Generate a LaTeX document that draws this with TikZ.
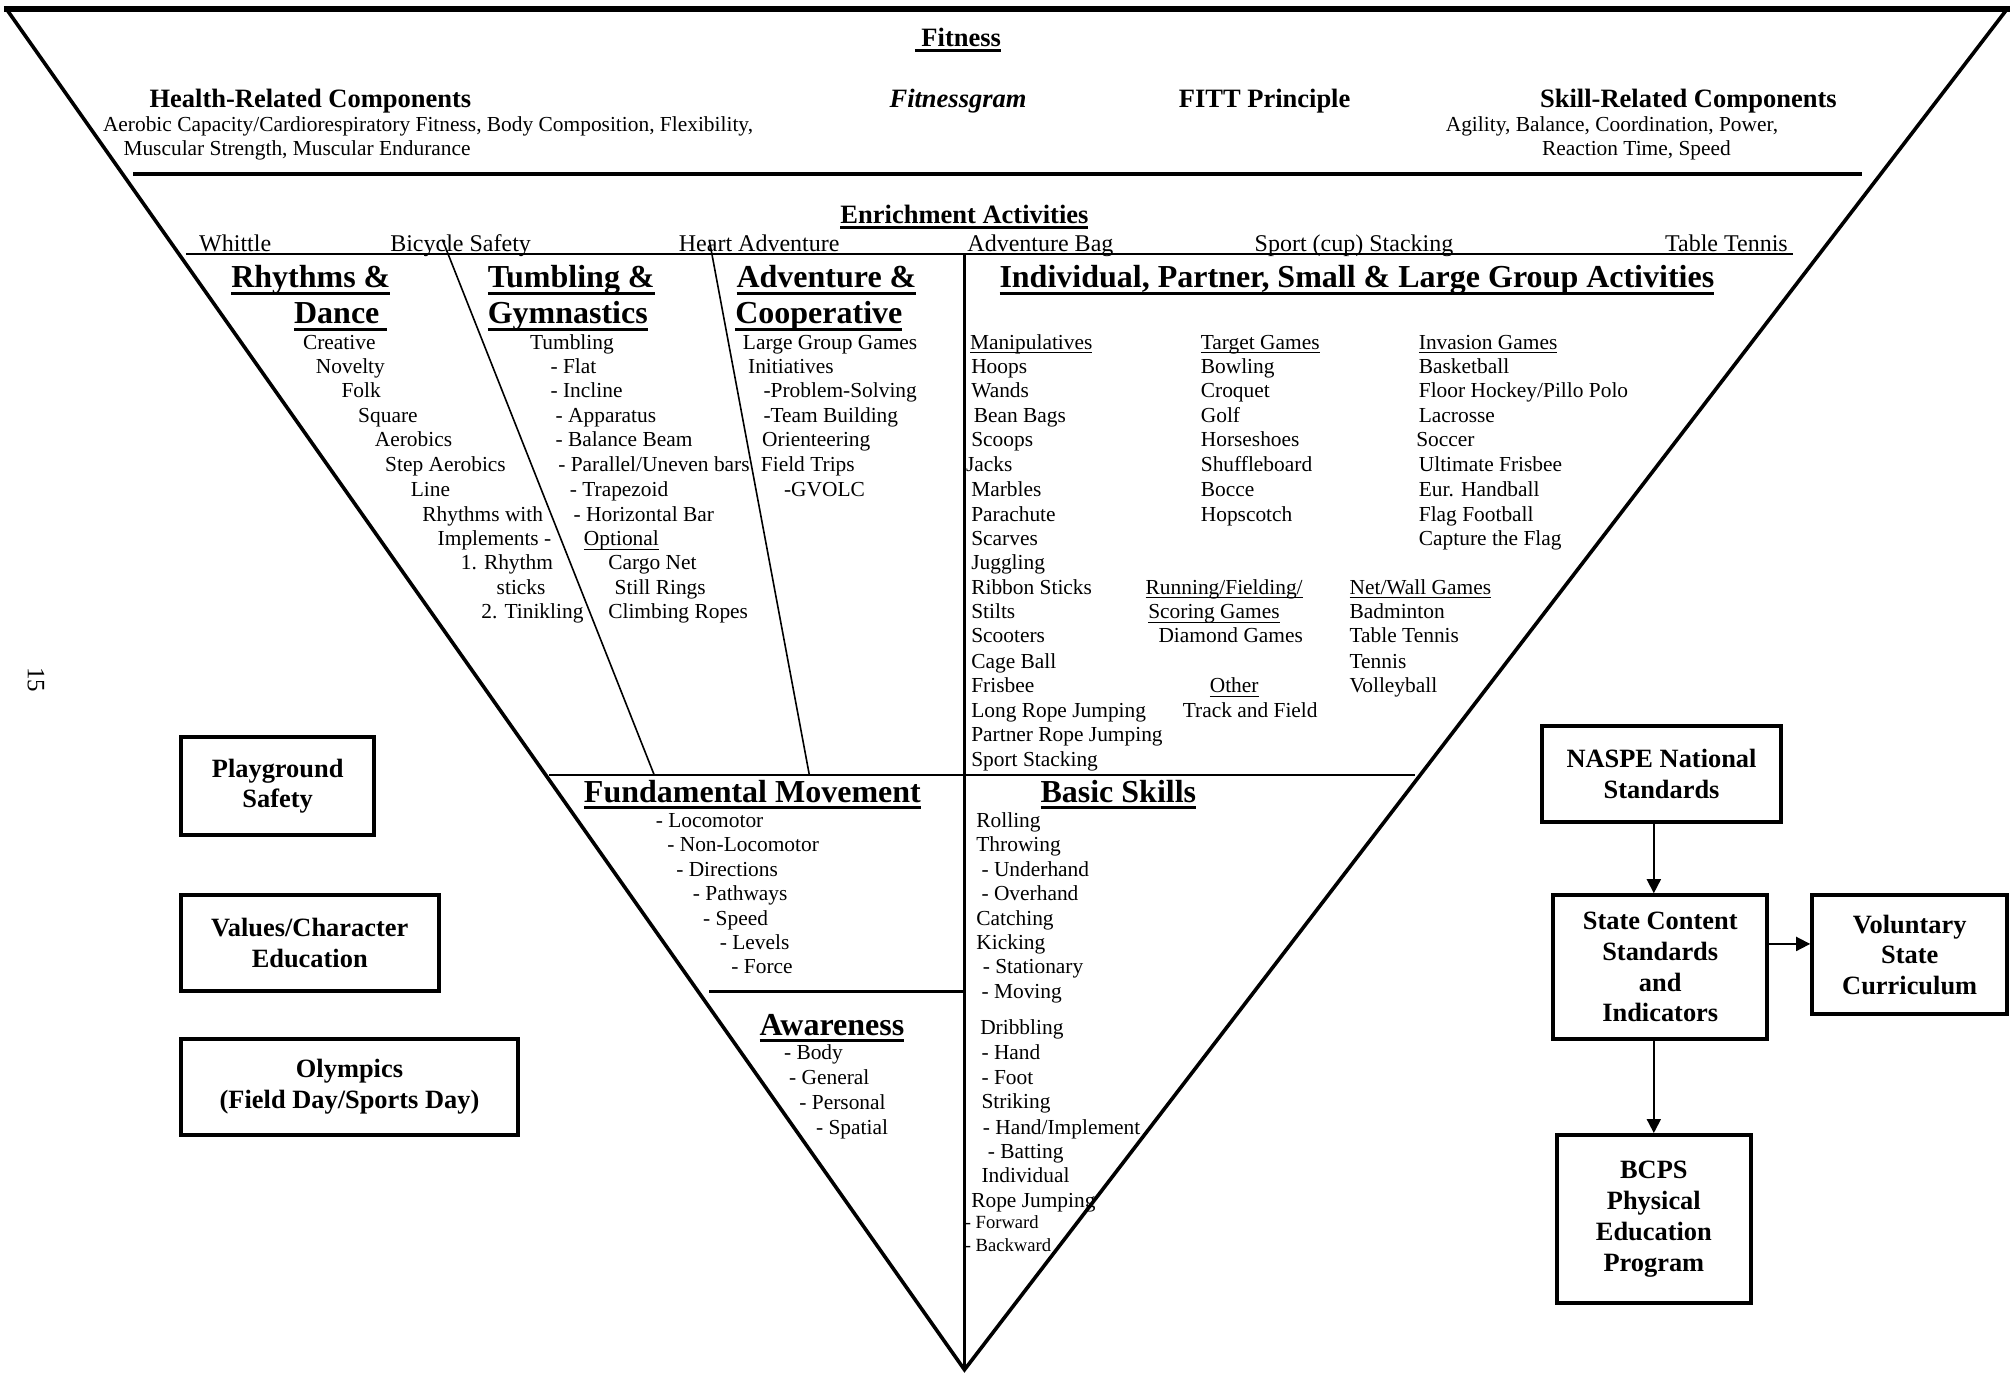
\documentclass[tikz,border=0pt]{standalone}
\usepackage{fontspec}
\setmainfont{Liberation Serif}
\usetikzlibrary{arrows.meta}
\newcommand{\uln}[3]{\leavevmode\setbox0\hbox{#3}\rlap{\rule[-#2]{\wd0}{#1}}\box0}
\newcommand{\ulA}[1]{\uln{1.5pt}{3.4pt}{#1}}
\newcommand{\ulB}[1]{\uln{1.2pt}{2.8pt}{#1}}
\newcommand{\ulC}[1]{\uln{0.55pt}{2.1pt}{#1}}
\begin{document}
\begin{tikzpicture}[x=0.64125pt,y=-0.64125pt,
  tx/.style={font=\fontsize{10.7pt}{12.26pt}\selectfont, anchor=base west, inner sep=0pt, yshift=-3.4pt},
  te/.style={font=\fontsize{12pt}{13.8pt}\selectfont, anchor=base west, inner sep=0pt, yshift=-3.8pt},
  sm/.style={font=\fontsize{9.3pt}{11pt}\selectfont, anchor=base west, inner sep=0pt, yshift=-3pt},
  hd/.style={font=\bfseries\fontsize{16pt}{18pt}\selectfont, anchor=base west, inner sep=0pt, yshift=-5.4pt},
  hm/.style={font=\bfseries\fontsize{13.25pt}{15pt}\selectfont, anchor=base, inner sep=0pt, yshift=-4.5pt},
  box/.style={draw, line width=2pt, font=\bfseries\fontsize{13.2pt}{15.4pt}\selectfont, align=center, inner sep=0pt},
  arr/.style={line width=0.9pt, -{Triangle[length=7pt,width=7pt]}}]
\useasboundingbox (0,0) rectangle (1568,1071);
\fill[white] (0,0) rectangle (1568,1071);

% frame lines
\draw[line width=3.2pt] (3,7) -- (1567,7);
\draw[line width=1.8pt, line join=miter] (5,7) -- (752,1068) -- (1565,7);
\draw[line width=2pt] (104,136) -- (1452,136);
\draw[line width=1.2pt] (145,198) -- (1398,198);
\draw[line width=1.8pt] (752,198) -- (752,1068);
\draw[line width=0.8pt] (345,187) -- (510,604);
\draw[line width=0.8pt] (553,187) -- (631,604);
\draw[line width=1.1pt] (428,604) -- (1103,604);
\draw[line width=1.1pt] (553,773) -- (752,773);

% page number
\node[font=\fontsize{12.5pt}{14pt}\selectfont, rotate=-90, inner sep=0pt] (pn) at (28,530) {15};

% Fitness section
\node[hm, anchor=base west] (fit) at (713,29) {\ulB{\ Fitness}};
\node[hm] (hrc) at (242,77) {Health-Related Components};
\node[tx] (hrc1) at (80,97) {Aerobic Capacity/Cardiorespiratory Fitness, Body Composition, Flexibility,};
\node[tx] (hrc2) at (96,116) {Muscular Strength, Muscular Endurance};
\node[hm] (fg) at (747,77) {\itshape Fitnessgram};
\node[hm] (fitt) at (986,77) {FITT Principle};
\node[hm] (src) at (1316.5,77) {Skill-Related Components};
\node[tx] (src1) at (1127,97) {Agility, Balance, Coordination, Power,};
\node[tx] (src2) at (1202,116) {Reaction Time, Speed};

% Enrichment
\node[hm] (enr) at (752,167) {\ulB{Enrichment Activities}};
\foreach \x/\t [count=\i] in {155/{Whittle},304/{Bicycle Safety},529/{Heart Adventure},754/{Adventure Bag},978/{Sport (cup) Stacking},1298/{Table Tennis}}
  \node[te] (en\i) at (\x,190) {\t};

% headings
\node[hd] (h1a) at (180,216) {\ulA{Rhythms \&}};
\node[hd] (h1b) at (229,244) {\ulA{Dance\ }};
\node[hd] (h2a) at (380,216) {\ulA{Tumbling \&}};
\node[hd] (h2b) at (380,244) {\ulA{Gymnastics}};
\node[hd] (h3a) at (574,216) {\ulA{Adventure \&}};
\node[hd] (h3b) at (573,244) {\ulA{Cooperative}};
\node[hd] (h4) at (779,216) {\ulA{Individual, Partner, Small \& Large Group Activities}};
\node[hd] (h5) at (455,617) {\ulA{Fundamental Movement}};
\node[hd] (h6) at (811,617) {\ulA{Basic Skills}};
\node[hd] (h7) at (592,799) {\ulA{Awareness}};

% Rhythms & Dance
\foreach \x/\y/\t [count=\i] in {236/267/{Creative},246/286/{Novelty},266/305/{Folk},279/324/{Square},292/343/{Aerobics},300/362/{Step Aerobics},320/382/{Line},329/401/{Rhythms with},341/420/{Implements -},359/439/{1. Rhythm},387/458/{sticks},375/477/{2. Tinikling}}
  \node[tx] (rd\i) at (\x,\y) {\t};

% Tumbling & Gymnastics
\foreach \x/\y/\t [count=\i] in {413/267/{Tumbling},429/286/{- Flat},429/305/{- Incline},433/324/{- Apparatus},433/343/{- Balance Beam},435/362/{- Parallel/Uneven bars},444/382/{- Trapezoid},447/401/{- Horizontal Bar},455/420/{\ulC{Optional}},474/439/{Cargo Net},479/458/{Still Rings},474/477/{Climbing Ropes}}
  \node[tx] (tg\i) at (\x,\y) {\t};

% Adventure & Cooperative
\foreach \x/\y/\t [count=\i] in {579/267/{Large Group Games},583/286/{Initiatives},595/305/{-Problem-Solving},595/324/{-Team Building},594/343/{Orienteering},593/362/{Field Trips},611/382/{-GVOLC}}
  \node[tx] (ac\i) at (\x,\y) {\t};

% Manipulatives
\foreach \x/\y/\t [count=\i] in {756/267/{\ulC{Manipulatives}},757/286/{Hoops},757/305/{Wands},759/324/{Bean Bags},757/343/{Scoops},753/362/{Jacks},757/382/{Marbles},757/401/{Parachute},757/420/{Scarves},757/439/{Juggling},757/458/{Ribbon Sticks},757/477/{Stilts},757/496/{Scooters},757/516/{Cage Ball},757/535/{Frisbee},757/554/{Long Rope Jumping},757/573/{Partner Rope Jumping},757/592/{Sport Stacking}}
  \node[tx] (mp\i) at (\x,\y) {\t};

% Target games
\foreach \y/\t [count=\i] in {267/{\ulC{Target Games}},286/{Bowling},305/{Croquet},324/{Golf},343/{Horseshoes},362/{Shuffleboard},382/{Bocce},401/{Hopscotch}}
  \node[tx] (tgm\i) at (936,\y) {\t};

% Invasion games
\foreach \x/\y/\t [count=\i] in {1106/267/{\ulC{Invasion Games}},1106/286/{Basketball},1106/305/{Floor Hockey/Pillo Polo},1106/324/{Lacrosse},1104/343/{Soccer},1106/362/{Ultimate Frisbee},1106/382/{Eur. Handball},1106/401/{Flag Football},1106/420/{Capture the Flag}}
  \node[tx] (ig\i) at (\x,\y) {\t};

% Running / Other
\foreach \x/\y/\t [count=\i] in {893/458/{\ulC{Running/Fielding/}},895/477/{\ulC{Scoring Games}},903/496/{Diamond Games},943/535/{\ulC{Other}},922/554/{Track and Field}}
  \node[tx] (rf\i) at (\x,\y) {\t};

% Net/Wall
\foreach \y/\t [count=\i] in {458/{\ulC{Net/Wall Games}},477/{Badminton},496/{Table Tennis},516/{Tennis},535/{Volleyball}}
  \node[tx] (nw\i) at (1052,\y) {\t};

% Fundamental movement
\foreach \x/\y/\t [count=\i] in {511/640/{- Locomotor},520/659/{- Non-Locomotor},527/678/{- Directions},540/697/{- Pathways},548/716/{- Speed},561/735/{- Levels},570/754/{- Force}}
  \node[tx] (fm\i) at (\x,\y) {\t};

% Awareness
\foreach \x/\y/\t [count=\i] in {611/821/{- Body},615/840/{- General},623/860/{- Personal},636/879/{- Spatial}}
  \node[tx] (aw\i) at (\x,\y) {\t};

% Basic skills
\foreach \x/\y/\t [count=\i] in {761/640/{Rolling},761/659/{Throwing},765/678/{- Underhand},765/697/{- Overhand},761/716/{Catching},761/735/{Kicking},766/754/{- Stationary},765/773/{- Moving},764/801/{Dribbling},765/821/{- Hand},765/840/{- Foot},765/859/{Striking},766/879/{- Hand/Implement},770/898/{- Batting},765/917/{Individual},757/936/{Rope Jumping}}
  \node[tx] (bs\i) at (\x,\y) {\t};
\node[sm] (bs17) at (752,953) {- Forward};
\node[sm] (bs18) at (752,971) {- Backward};

% left boxes
\node[box, minimum width=96.8pt, minimum height=48.7pt] (pg) at (216.5,613) {Playground\\Safety};
\node[box, minimum width=128.9pt, minimum height=48.1pt] (vce) at (241.5,735.5) {Values/Character\\Education};
\node[box, minimum width=168.6pt, minimum height=48.1pt] (oly) at (272.5,847.5) {Olympics\\(Field Day/Sports Day)};

% right boxes
\node[box, minimum width=119.9pt, minimum height=48.1pt] (naspe) at (1295.5,603.5) {NASPE National\\Standards};
\node[box, minimum width=107.1pt, minimum height=71.8pt] (state) at (1294.5,754) {State Content\\Standards\\and\\Indicators};
\node[box, minimum width=97.5pt, minimum height=59.6pt] (vsc) at (1489,744.5) {Voluntary\\State\\Curriculum};
\node[box, minimum width=96.8pt, minimum height=84pt] (bcps) at (1289.5,950.5) {BCPS\\Physical\\Education\\Program};
\coordinate (ay) at (0,736);
\draw[arr] (naspe.south -| bcps.north) -- (state.north -| bcps.north);
\draw[arr] (state.south -| bcps.north) -- (bcps.north);
\draw[arr] (state.east |- ay) -- (vsc.west |- ay);
\end{tikzpicture}
\end{document}
